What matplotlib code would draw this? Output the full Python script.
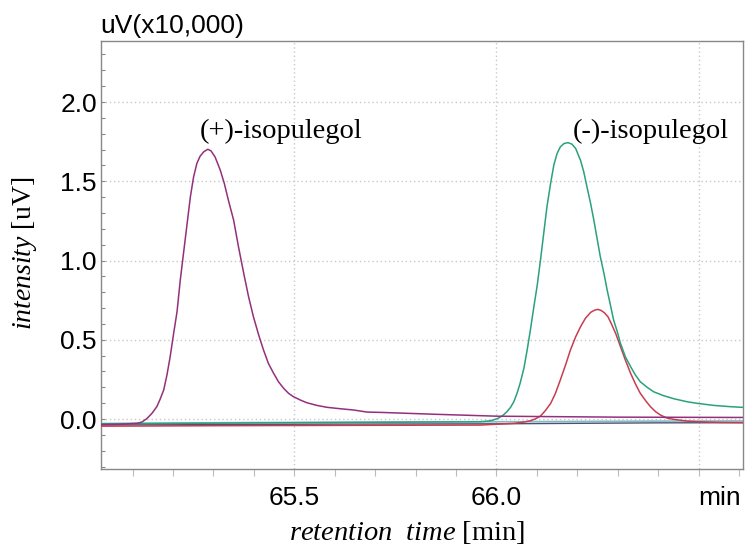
import matplotlib
matplotlib.use("Agg")
import matplotlib.pyplot as plt
from matplotlib.ticker import MultipleLocator, FixedLocator

plt.rcParams["mathtext.fontset"] = "custom"
plt.rcParams["mathtext.rm"] = "Liberation Serif"
plt.rcParams["mathtext.it"] = "Liberation Serif:italic"

# ---- chromatogram traces (retention time in min, signal in uV x 10,000) ----
plus_t = [65.022, 65.069, 65.111, 65.123, 65.135, 65.148, 65.160, 65.168, 65.177,
          65.185, 65.193, 65.201, 65.210, 65.218, 65.226, 65.234, 65.243, 65.251,
          65.259, 65.267, 65.276, 65.286, 65.294, 65.304, 65.317, 65.327, 65.337,
          65.350, 65.362, 65.375, 65.387, 65.399, 65.412, 65.424, 65.436, 65.449,
          65.461, 65.474, 65.486, 65.498, 65.515, 65.531, 65.556, 65.581, 65.614,
          65.647, 65.680, 65.713, 65.850, 66.002, 66.300, 66.619]
plus_v = [-0.035, -0.033, -0.027, -0.019, 0.002, 0.036, 0.078, 0.124, 0.183,
          0.277, 0.393, 0.530, 0.677, 0.876, 1.045, 1.213, 1.402, 1.528,
          1.612, 1.658, 1.686, 1.702, 1.692, 1.654, 1.570, 1.486, 1.381,
          1.255, 1.087, 0.919, 0.771, 0.645, 0.530, 0.435, 0.351, 0.288,
          0.235, 0.193, 0.162, 0.141, 0.120, 0.103, 0.086, 0.074, 0.065,
          0.057, 0.044, 0.042, 0.030, 0.018, 0.012, 0.010]

minus_t = [65.022, 65.300, 65.600, 65.960, 65.985, 66.002, 66.014, 66.026, 66.035,
           66.043, 66.051, 66.059, 66.068, 66.076, 66.084, 66.092, 66.101, 66.109,
           66.117, 66.125, 66.134, 66.142, 66.150, 66.158, 66.167, 66.177, 66.187,
           66.196, 66.208, 66.216, 66.224, 66.233, 66.241, 66.249, 66.257, 66.266,
           66.274, 66.282, 66.290, 66.299, 66.307, 66.319, 66.332, 66.344, 66.356,
           66.373, 66.389, 66.414, 66.439, 66.472, 66.497, 66.538, 66.579, 66.621]
minus_v = [-0.030, -0.026, -0.022, -0.017, -0.011, 0.002, 0.019, 0.046, 0.074,
           0.109, 0.162, 0.229, 0.320, 0.435, 0.561, 0.698, 0.845, 1.003,
           1.171, 1.339, 1.486, 1.602, 1.675, 1.717, 1.738, 1.744, 1.734,
           1.707, 1.633, 1.560, 1.465, 1.360, 1.255, 1.139, 1.024, 0.919,
           0.813, 0.719, 0.624, 0.551, 0.477, 0.393, 0.330, 0.277, 0.235,
           0.200, 0.172, 0.147, 0.128, 0.109, 0.099, 0.086, 0.078, 0.072]

blend_t = [65.022, 65.300, 65.600, 65.960, 66.043, 66.068, 66.084, 66.097, 66.109,
           66.121, 66.134, 66.146, 66.158, 66.171, 66.183, 66.196, 66.208, 66.220,
           66.233, 66.243, 66.251, 66.259, 66.267, 66.276, 66.284, 66.295, 66.307,
           66.319, 66.332, 66.344, 66.356, 66.369, 66.381, 66.394, 66.406, 66.422,
           66.439, 66.472, 66.497, 66.554, 66.621]
blend_v = [-0.045, -0.042, -0.040, -0.038, -0.027, -0.019, -0.011, 0.002, 0.019,
           0.053, 0.098, 0.162, 0.246, 0.341, 0.435, 0.519, 0.582, 0.635,
           0.673, 0.687, 0.692, 0.685, 0.671, 0.645, 0.603, 0.540, 0.456,
           0.372, 0.288, 0.221, 0.162, 0.116, 0.078, 0.046, 0.025, 0.006,
           -0.002, -0.013, -0.017, -0.021, -0.023]

base1_t = [65.022, 65.200, 65.400, 65.600, 65.800, 66.000, 66.200, 66.400, 66.621]
base1_v = [-0.028, -0.025, -0.022, -0.020, -0.018, -0.017, -0.015, -0.013, -0.012]

base2_t = [65.022, 65.200, 65.400, 65.600, 65.800, 66.000, 66.200, 66.400, 66.621]
base2_v = [-0.037, -0.036, -0.034, -0.032, -0.031, -0.030, -0.027, -0.024, -0.023]

y_ticks = [0.0, 0.5, 1.0, 1.5, 2.0]
x_ticks = [65.5, 66.0, 66.5]
x_tick_labels = ["65.5", "66.0", "min"]

fig = plt.figure(figsize=(7.5, 5.52), dpi=100)
ax = fig.add_axes([0.1347, 0.1504, 0.856, 0.7753])

ax.plot(base1_t, base1_v, color="#86b9c6", lw=1.2, zorder=2)
ax.plot(base2_t, base2_v, color="#4b5170", lw=1.0, zorder=2)
ax.plot(blend_t, blend_v, color="#c83c50", lw=1.1, zorder=3)
ax.plot(minus_t, minus_v, color="#2aa07f", lw=1.1, zorder=4)
ax.plot(plus_t, plus_v, color="#93307c", lw=1.1, zorder=5)

ax.set_xlim(65.022, 66.61)
ax.set_ylim(-0.315, 2.385)

ax.yaxis.set_major_locator(FixedLocator(y_ticks))
ax.yaxis.set_minor_locator(MultipleLocator(0.1))
ax.set_yticklabels([f"{v:.1f}" for v in y_ticks])
ax.xaxis.set_major_locator(FixedLocator(x_ticks))
ax.xaxis.set_minor_locator(MultipleLocator(0.1))
ax.set_xticklabels(x_tick_labels)

for lab in ax.get_xticklabels() + ax.get_yticklabels():
    lab.set_fontfamily("Liberation Sans")
    lab.set_fontsize(19)
ax.get_xticklabels()[2].set_ha("left")

ax.tick_params(axis="y", which="both", direction="in", length=3, width=0.8,
               color="#888888", pad=3)
ax.tick_params(axis="x", which="both", direction="out", length=5, width=0.8,
               color="#bbbbbb", pad=7)

ax.grid(True, which="major", linestyle=(0, (1, 2)), color="#c8c8c8", lw=1.0)
ax.set_axisbelow(True)
for sp in ax.spines.values():
    sp.set_color("#888888")
    sp.set_linewidth(1.0)

ax.text(65.468, 1.772, "(+)-isopulegol", ha="center", va="baseline",
        fontfamily="Liberation Serif", fontsize=20.5)
ax.text(66.382, 1.772, "(-)-isopulegol", ha="center", va="baseline",
        fontfamily="Liberation Serif", fontsize=20.5)

fig.text(0.1333, 0.9402, "uV(x10,000)", ha="left", va="baseline",
         fontfamily="Liberation Sans", fontsize=19)
fig.text(407.5 / 750, 1 - 540 / 552, r"$\mathit{retention\ \ time}$ [min]",
         ha="center", va="baseline", fontfamily="Liberation Serif", fontsize=20.5)
fig.text(25 / 750, 1 - 253.5 / 552, r"$\mathit{intensity}$ [uV]", rotation=90,
         ha="center", va="center", fontfamily="Liberation Serif", fontsize=20)

fig.savefig("out.png", dpi=100)
